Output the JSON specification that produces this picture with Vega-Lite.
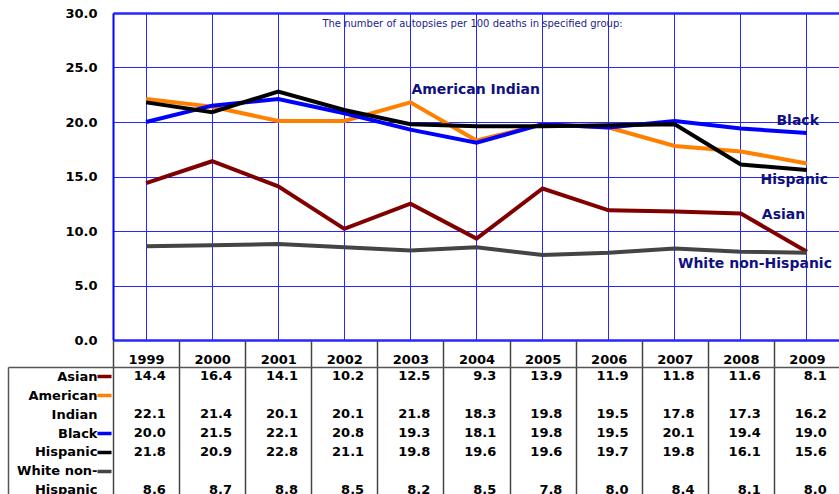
{
  "$schema": "https://vega.github.io/schema/vega-lite/v6.json",
  "autosize": {"type": "none"},
  "padding": {"left": 8, "top": 13, "right": 0, "bottom": 0},
  "width": 831,
  "height": 481,
  "background": "white",
  "config": {"view": {"stroke": null}},
  "datasets": {
    "rates": [
      {"group": "Asian", "year": 1999, "value": 14.4},
      {"group": "Asian", "year": 2000, "value": 16.4},
      {"group": "Asian", "year": 2001, "value": 14.1},
      {"group": "Asian", "year": 2002, "value": 10.2},
      {"group": "Asian", "year": 2003, "value": 12.5},
      {"group": "Asian", "year": 2004, "value": 9.3},
      {"group": "Asian", "year": 2005, "value": 13.9},
      {"group": "Asian", "year": 2006, "value": 11.9},
      {"group": "Asian", "year": 2007, "value": 11.8},
      {"group": "Asian", "year": 2008, "value": 11.6},
      {"group": "Asian", "year": 2009, "value": 8.1},
      {"group": "American Indian", "year": 1999, "value": 22.1},
      {"group": "American Indian", "year": 2000, "value": 21.4},
      {"group": "American Indian", "year": 2001, "value": 20.1},
      {"group": "American Indian", "year": 2002, "value": 20.1},
      {"group": "American Indian", "year": 2003, "value": 21.8},
      {"group": "American Indian", "year": 2004, "value": 18.3},
      {"group": "American Indian", "year": 2005, "value": 19.8},
      {"group": "American Indian", "year": 2006, "value": 19.5},
      {"group": "American Indian", "year": 2007, "value": 17.8},
      {"group": "American Indian", "year": 2008, "value": 17.3},
      {"group": "American Indian", "year": 2009, "value": 16.2},
      {"group": "Black", "year": 1999, "value": 20.0},
      {"group": "Black", "year": 2000, "value": 21.5},
      {"group": "Black", "year": 2001, "value": 22.1},
      {"group": "Black", "year": 2002, "value": 20.8},
      {"group": "Black", "year": 2003, "value": 19.3},
      {"group": "Black", "year": 2004, "value": 18.1},
      {"group": "Black", "year": 2005, "value": 19.8},
      {"group": "Black", "year": 2006, "value": 19.5},
      {"group": "Black", "year": 2007, "value": 20.1},
      {"group": "Black", "year": 2008, "value": 19.4},
      {"group": "Black", "year": 2009, "value": 19.0},
      {"group": "Hispanic", "year": 1999, "value": 21.8},
      {"group": "Hispanic", "year": 2000, "value": 20.9},
      {"group": "Hispanic", "year": 2001, "value": 22.8},
      {"group": "Hispanic", "year": 2002, "value": 21.1},
      {"group": "Hispanic", "year": 2003, "value": 19.8},
      {"group": "Hispanic", "year": 2004, "value": 19.6},
      {"group": "Hispanic", "year": 2005, "value": 19.6},
      {"group": "Hispanic", "year": 2006, "value": 19.7},
      {"group": "Hispanic", "year": 2007, "value": 19.8},
      {"group": "Hispanic", "year": 2008, "value": 16.1},
      {"group": "Hispanic", "year": 2009, "value": 15.6},
      {"group": "White non-Hispanic", "year": 1999, "value": 8.6},
      {"group": "White non-Hispanic", "year": 2000, "value": 8.7},
      {"group": "White non-Hispanic", "year": 2001, "value": 8.8},
      {"group": "White non-Hispanic", "year": 2002, "value": 8.5},
      {"group": "White non-Hispanic", "year": 2003, "value": 8.2},
      {"group": "White non-Hispanic", "year": 2004, "value": 8.5},
      {"group": "White non-Hispanic", "year": 2005, "value": 7.8},
      {"group": "White non-Hispanic", "year": 2006, "value": 8.0},
      {"group": "White non-Hispanic", "year": 2007, "value": 8.4},
      {"group": "White non-Hispanic", "year": 2008, "value": 8.1},
      {"group": "White non-Hispanic", "year": 2009, "value": 8.0}
    ]
  },
  "layer": [
    {
      "data": {"name": "rates"},
      "layer": [
        {
          "mark": {"type": "line", "strokeWidth": 4, "strokeJoin": "miter", "clip": false},
          "encoding": {
            "x": {
              "field": "year", "type": "ordinal",
              "scale": {"type": "band", "range": [105, 832], "paddingInner": 0, "paddingOuter": 0},
              "axis": {"orient": "top", "offset": 0, "labels": false, "ticks": false, "domain": false, "title": null,
                       "grid": true, "gridColor": "#2626ff", "gridWidth": 1, "gridOpacity": 1}
            },
            "y": {
              "field": "value", "type": "quantitative",
              "scale": {"domain": [0, 30], "range": [327, 0], "nice": false},
              "axis": {"orient": "left", "offset": -105, "values": [0, 5, 10, 15, 20, 25, 30], "format": ".1f",
                       "title": null, "ticks": false, "domain": true, "domainColor": "#0000ff", "domainWidth": 2,
                       "labelPadding": 16, "labelFont": "DejaVu Sans", "labelFontSize": 13, "labelFontWeight": "bold",
                       "labelColor": "#000000", "grid": true, "gridColor": "#2626ff", "gridOpacity": 1,
                       "gridWidth": {"condition": {"test": "datum.value === 0 || datum.value === 30", "value": 2.5}, "value": 1}}
            },
            "color": {
              "field": "group", "type": "nominal", "legend": null,
              "scale": {"domain": ["White non-Hispanic", "Asian", "American Indian", "Black", "Hispanic"],
                        "range": ["#444444", "#800000", "#ff8000", "#0000ff", "#000000"]}
            }
          }
        },
        {
          "data": {"values": [{"note": "The number of autopsies per 100 deaths in specified group:"}]},
          "mark": {"type": "text", "font": "DejaVu Sans", "fontSize": 10, "color": "#1c1c8c", "align": "center", "baseline": "middle", "dx": -4},
          "encoding": {"x": {"datum": 2004, "type": "ordinal"}, "y": {"datum": 29, "type": "quantitative"}, "text": {"field": "note"}}
        },
        {
          "transform": [{"filter": "datum.group === 'American Indian' && datum.year === 2003"}],
          "mark": {"type": "text", "font": "DejaVu Sans", "fontSize": 14, "fontWeight": "bold", "color": "#10107f", "align": "left", "baseline": "middle", "dx": 1, "dy": -12},
          "encoding": {"x": {"field": "year", "type": "ordinal"}, "y": {"field": "value", "type": "quantitative"}, "text": {"field": "group"}}
        },
        {
          "transform": [{"filter": "datum.group === 'Black' && datum.year === 2009"}],
          "mark": {"type": "text", "font": "DejaVu Sans", "fontSize": 14, "fontWeight": "bold", "color": "#10107f", "align": "right", "baseline": "middle", "dx": 12, "dy": -12},
          "encoding": {"x": {"field": "year", "type": "ordinal"}, "y": {"field": "value", "type": "quantitative"}, "text": {"field": "group"}}
        },
        {
          "transform": [{"filter": "datum.group === 'Hispanic' && datum.year === 2009"}],
          "mark": {"type": "text", "font": "DejaVu Sans", "fontSize": 14, "fontWeight": "bold", "color": "#10107f", "align": "right", "baseline": "middle", "dx": 21, "dy": 10},
          "encoding": {"x": {"field": "year", "type": "ordinal"}, "y": {"field": "value", "type": "quantitative"}, "text": {"field": "group"}}
        },
        {
          "transform": [{"filter": "datum.group === 'Asian' && datum.year === 2008"}],
          "mark": {"type": "text", "font": "DejaVu Sans", "fontSize": 14, "fontWeight": "bold", "color": "#10107f", "align": "left", "baseline": "middle", "dx": 21, "dy": 1},
          "encoding": {"x": {"field": "year", "type": "ordinal"}, "y": {"field": "value", "type": "quantitative"}, "text": {"field": "group"}}
        },
        {
          "transform": [{"filter": "datum.group === 'White non-Hispanic' && datum.year === 2009"}],
          "mark": {"type": "text", "font": "DejaVu Sans", "fontSize": 14, "fontWeight": "bold", "color": "#10107f", "align": "right", "baseline": "middle", "dx": 25, "dy": 11},
          "encoding": {"x": {"field": "year", "type": "ordinal"}, "y": {"field": "value", "type": "quantitative"}, "text": {"field": "group"}}
        }
      ]
    },
    {
      "data": {"name": "rates"},
      "mark": {"type": "text", "font": "DejaVu Sans", "fontSize": 13, "fontWeight": "bold", "color": "#000000", "align": "right", "baseline": "middle", "clip": false},
      "encoding": {
        "x": {
          "field": "year", "type": "ordinal", "bandPosition": 0.8,
          "scale": {"type": "band", "range": [0, 832], "paddingInner": 0, "paddingOuter": 0.7944, "align": 1},
          "axis": {"orient": "top", "offset": -354, "title": null, "tickBand": "extent", "ticks": true, "tickSize": 27,
                   "tickColor": "#444444", "tickWidth": 1.5, "domain": true, "domainColor": "#555555", "domainWidth": 1.5,
                   "grid": true, "gridColor": "#444444", "gridWidth": 1.5, "gridOpacity": 1,
                   "labelFont": "DejaVu Sans", "labelFontSize": 13, "labelFontWeight": "bold", "labelColor": "#000000",
                   "labelPadding": -19, "labelBaseline": "middle", "labelAngle": 0}
        },
        "y": {
          "field": "group", "type": "nominal",
          "scale": {"type": "point", "domain": ["Asian", "American", "American Indian", "Black", "Hispanic", "White non-", "White non-Hispanic"],
                    "range": [354, 486], "padding": 0.5},
          "axis": {"orient": "left", "offset": 0, "title": null, "domain": true, "domainColor": "#555555", "domainWidth": 1.5,
                   "ticks": true, "tickSize": -103, "tickDash": [0, 89, 14], "tickWidth": 3.5,
                   "tickColor": {"condition": [
                     {"test": "datum.value === 'Asian'", "value": "#800000"},
                     {"test": "datum.value === 'American'", "value": "#ff8000"},
                     {"test": "datum.value === 'Black'", "value": "#0000ff"},
                     {"test": "datum.value === 'Hispanic'", "value": "#000000"},
                     {"test": "datum.value === 'White non-'", "value": "#444444"}
                   ], "value": "transparent"},
                   "labelExpr": "datum.value === 'American Indian' ? 'Indian' : datum.value === 'White non-Hispanic' ? 'Hispanic' : datum.value",
                   "labelFont": "DejaVu Sans", "labelFontSize": 13, "labelFontWeight": "bold", "labelColor": "#000000",
                   "labelPadding": 14, "labelAlign": "right", "labelBaseline": "middle", "grid": false}
        },
        "text": {"field": "value", "format": ".1f"}
      }
    }
  ],
  "resolve": {
    "scale": {"x": "independent", "y": "independent"},
    "axis": {"x": "independent", "y": "independent"}
  }
}
